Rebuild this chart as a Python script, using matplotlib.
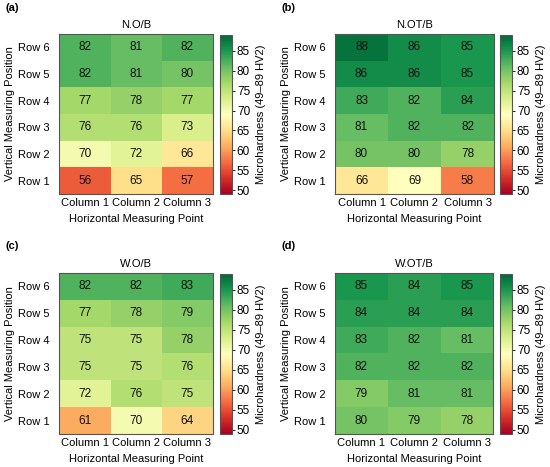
import matplotlib
matplotlib.use("Agg")
import matplotlib.pyplot as plt
import numpy as np

plt.rcParams['font.family'] = ['Liberation Sans', 'DejaVu Sans']

# rows listed top (Row 6) to bottom (Row 1)
row_labels = ["Row 6", "Row 5", "Row 4", "Row 3", "Row 2", "Row 1"]
col_labels = ["Column 1", "Column 2", "Column 3"]

no_b = [[82, 81, 82],
        [82, 81, 80],
        [77, 78, 77],
        [76, 76, 73],
        [70, 72, 66],
        [56, 65, 57]]

not_b = [[88, 86, 85],
         [86, 86, 85],
         [83, 82, 84],
         [81, 82, 82],
         [80, 80, 78],
         [66, 69, 58]]

wo_b = [[82, 82, 83],
        [77, 78, 79],
        [75, 75, 78],
        [75, 75, 76],
        [72, 76, 75],
        [61, 70, 64]]

wot_b = [[85, 84, 85],
         [84, 84, 84],
         [83, 82, 81],
         [82, 82, 82],
         [79, 81, 81],
         [80, 79, 78]]

titles = ["N.O/B", "N.OT/B", "W.O/B", "W.OT/B"]
letters = ["(a)", "(b)", "(c)", "(d)"]
datasets = [no_b, not_b, wo_b, wot_b]

W, H = 550, 467
fig = plt.figure(figsize=(W / 100, H / 100), dpi=100)

def box(x0, y0, x1, y1):
    # pixel box (top-left origin) -> figure fraction rect
    return [x0 / W, 1 - y1 / H, (x1 - x0) / W, (y1 - y0) / H]

ax_boxes = [(59, 34, 213, 194), (335, 34, 494, 194),
            (59, 273, 213, 434), (335, 273, 493, 434)]
cb_boxes = [(220, 35, 232, 194), (500, 35, 512, 194),
            (220, 274, 232, 434), (500, 274, 512, 434)]
letter_pos = [(5, 8), (281, 8), (5, 246), (281, 246)]

fs = 8

for i in range(4):
    data = np.array(datasets[i])
    ax = fig.add_axes(box(*ax_boxes[i]))
    im = ax.imshow(data, cmap='RdYlGn', vmin=49, vmax=89, aspect='auto')

    for r in range(data.shape[0]):
        for c in range(data.shape[1]):
            ax.text(c, r, str(data[r, c]), ha='center', va='center',
                    fontsize=8.5, color='#111111')

    ax.set_xticks(range(len(col_labels)))
    ax.set_xticklabels(col_labels, fontsize=fs)
    ax.set_yticks(range(len(row_labels)))
    ax.set_yticklabels(row_labels, fontsize=fs)
    ax.tick_params(axis='x', length=0, pad=3)
    ax.tick_params(axis='y', length=0, pad=7)
    ax.set_xlabel("Horizontal Measuring Point", fontsize=fs, labelpad=4)
    ax.set_ylabel("Vertical Measuring Position", fontsize=fs, labelpad=2)
    ax.set_title(titles[i], fontsize=fs, pad=4)
    for s in ax.spines.values():
        s.set_color('#555555')
        s.set_linewidth(0.8)

    cax = fig.add_axes(box(*cb_boxes[i]))
    cb = fig.colorbar(im, cax=cax, ticks=[50, 55, 60, 65, 70, 75, 80, 85])
    cb.ax.tick_params(labelsize=8.5, length=2.5, width=0.6, pad=1)
    cb.outline.set_edgecolor('#555555')
    cb.outline.set_linewidth(0.8)
    cb.set_label("Microhardness (49\u201389 HV2)", fontsize=fs, labelpad=4)

    lx, ly = letter_pos[i]
    fig.text(lx / W, 1 - ly / H, letters[i], fontsize=fs, fontweight='bold',
             ha='left', va='center')

fig.savefig("out.png", dpi=100)
